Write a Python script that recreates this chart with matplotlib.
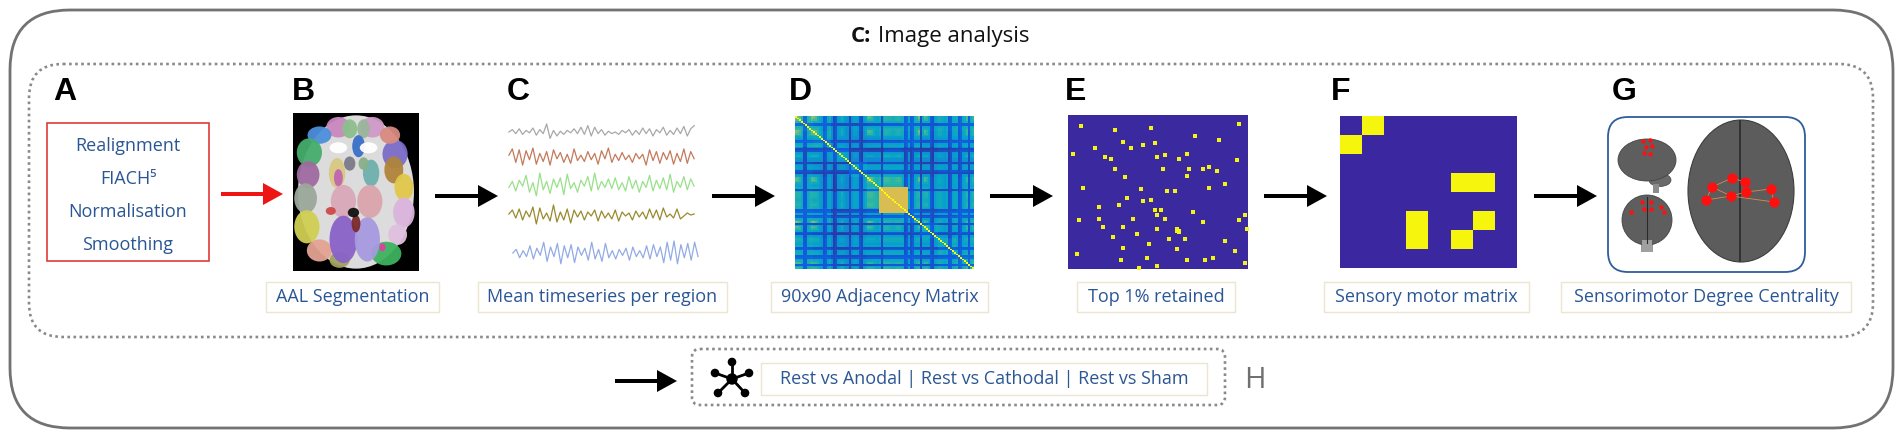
import matplotlib
matplotlib.use('Agg')
import matplotlib.pyplot as plt
import numpy as np
from matplotlib.patches import FancyBboxPatch, Rectangle, Ellipse, FancyArrow, Circle
from matplotlib.colors import LinearSegmentedColormap, ListedColormap

# ---------------- data ----------------
panel_letters = ['A', 'B', 'C', 'D', 'E', 'F', 'G']
preproc_steps = ['Realignment', 'FIACH\u2075', 'Normalisation', 'Smoothing']
captions = ['AAL Segmentation', 'Mean timeseries per region', '90x90 Adjacency Matrix',
            'Top 1% retained', 'Sensory motor matrix', 'Sensorimotor Degree Centrality']
title_bold = 'C:'
title_rest = 'Image analysis'
bottom_caption = 'Rest vs Anodal | Rest vs Cathodal | Rest vs Sham'
bottom_label = 'H'

ts_gray = [0.0,0.3,-0.2,0.4,-0.3,0.2,-0.1,0.5,-0.4,0.3,-0.2,1.0,-0.8,0.2,-0.5,0.1,-0.3,0.2,-0.1,0.4,
           -0.2,0.6,-0.3,0.8,-0.5,0.6,-0.2,0.3,-0.4,0.1,-0.2,0.0,-0.3,0.2,-0.1,0.3,-0.4,0.2,-0.3,0.5,
           -0.2,0.4,-0.5,0.3,-0.1,0.6,-0.4,0.2,-0.3,0.5,-0.2,0.7,-0.5,0.4,0.8]
ts_brown = [0.2,0.9,-0.6,0.8,-0.9,0.7,-0.3,1.0,-0.8,0.4,-0.5,0.6,-0.9,0.8,-0.2,0.5,-0.6,0.3,-0.7,0.9,
            -0.4,0.2,-0.5,0.6,-0.3,0.4,-0.8,0.7,-0.2,1.0,-0.6,0.3,-0.4,0.5,-0.3,0.2,-0.6,0.4,-0.2,0.3,
            -0.9,0.8,-0.4,0.6,-0.7,0.5,-0.3,0.7,-0.8,0.4,-0.5,0.9,-0.7,0.6,-0.2]
ts_green = [-0.2,0.3,-0.5,0.4,-0.1,0.8,-0.6,0.2,-0.9,1.0,-0.4,0.3,-0.7,0.5,-0.2,0.6,-0.8,0.9,-0.3,0.2,
            -0.6,0.4,-0.1,0.7,-0.5,1.0,-0.4,0.3,-0.2,0.5,-0.3,0.6,-0.4,0.2,-0.5,0.7,-0.3,0.4,-0.6,0.3,
            -0.2,0.8,-0.5,0.4,-0.3,0.6,-0.4,0.9,-0.6,0.3,-0.2,0.7,-0.4,0.5,-0.1]
ts_olive = [0.1,0.5,-0.3,0.6,-0.5,0.4,-0.2,0.8,-0.9,0.7,-0.4,0.2,-0.6,1.0,-0.7,0.3,-0.5,0.6,-0.8,0.5,
            -0.2,0.4,-0.5,0.3,-0.1,0.5,-0.6,0.4,-0.3,0.2,-0.4,0.5,-0.6,0.3,-0.1,0.2,-0.5,0.4,-0.2,0.3,
            -0.4,0.6,-0.3,0.5,-0.5,0.7,-0.2,0.1,-0.3,0.6,-0.4,-0.1,0.2,0.0,0.1]
ts_blue = [0.0,0.3,-0.4,0.2,-0.3,0.6,-0.5,0.4,-0.2,0.9,-0.7,0.5,-0.3,0.8,-0.9,0.6,-0.4,0.7,-0.8,0.5,
           -0.2,0.4,-0.6,0.9,-0.5,0.3,-0.7,0.8,-0.4,0.2,-0.5,0.3,-0.2,0.4,-0.6,0.5,-0.3,0.2,-0.4,0.6,
           -0.5,0.7,-0.3,0.5,-0.8,0.9,-0.6,1.0,-0.9,0.7,-0.4,0.8,-0.6,0.9,-0.3]
timeseries = [ts_gray, ts_brown, ts_green, ts_olive, ts_blue]

# region profile for the 90x90 adjacency matrix (stripe pattern)
region_profile = [0.70,0.65,0.55,0.40,-0.05,-0.05,0.38,0.45,0.65,0.70,
                  0.60,0.45,0.35,0.30,-0.05,0.00,0.35,0.40,0.30,-0.05,
                  0.00,0.35,0.40,0.50,0.38,0.32,0.30,-0.05,0.30,0.38,
                  0.40,0.35,0.00,-0.05,0.35,0.42,0.65,0.70,0.60,0.45,
                  0.40,0.38,0.45,-0.05,0.42,0.50,0.50,0.48,0.45,0.42,
                  0.45,0.48,0.50,0.45,0.40,-0.05,0.00,0.35,-0.05,0.00,
                  0.38,0.45,0.70,-0.05,0.45,0.65,0.55,0.40,0.00,-0.05,
                  0.35,0.40,0.45,0.42,0.38,0.35,0.40,-0.05,0.00,0.38,
                  0.42,0.38,-0.05,0.00,0.35,0.40,0.55,-0.05,0.38,0.50]
# coarse module levels (10x10 blocks of 9 regions)
module_levels = [[0.55,0.45,0.30,0.30,0.35,0.40,0.45,0.35,0.40,0.45],
                 [0.45,0.50,0.30,0.25,0.30,0.35,0.40,0.30,0.35,0.40],
                 [0.30,0.30,0.40,0.22,0.20,0.30,0.25,0.20,0.25,0.30],
                 [0.30,0.25,0.22,0.40,0.30,0.35,0.30,0.25,0.30,0.30],
                 [0.35,0.30,0.20,0.30,0.50,0.55,0.35,0.30,0.30,0.35],
                 [0.40,0.35,0.30,0.35,0.55,0.50,0.40,0.35,0.35,0.40],
                 [0.45,0.40,0.25,0.30,0.35,0.40,0.45,0.30,0.35,0.40],
                 [0.35,0.30,0.20,0.25,0.30,0.35,0.30,0.40,0.30,0.35],
                 [0.40,0.35,0.25,0.30,0.30,0.35,0.35,0.30,0.45,0.40],
                 [0.45,0.40,0.30,0.30,0.35,0.40,0.40,0.35,0.40,0.50]]
block_start, block_end, block_value = 42, 57, 0.76

# top 1% retained edges (row, col) in 90x90 grid
top_rows = [6,8,7,12,5,15,16,14,19,19,17,22,24,25,24,23,25,22,26,31,31,31,31,30,32,35,36,40,42,43,44,44,42,48,
            50,49,53,52,55,55,58,56,60,61,60,60,62,61,58,65,65,66,66,67,67,68,66,71,69,72,72,73,75,77,78,81,
            79,83,84,84,84,83,86,89,88]
top_cols = [6,23,41,63,85,27,43,75,13,31,37,2,18,21,44,48,55,59,84,23,47,60,67,70,74,59,28,78,7,36,49,53,70,29,
            37,41,15,25,43,46,44,62,48,5,15,32,67,85,88,17,27,44,54,54,55,55,89,22,34,50,58,78,40,27,54,4,
            83,39,26,59,68,72,88,35,44]

# sensory motor matrix (8x8)
sm_matrix = [[0,1,0,0,0,0,0,0],
             [1,0,0,0,0,0,0,0],
             [0,0,0,0,0,0,0,0],
             [0,0,0,0,0,1,1,0],
             [0,0,0,0,0,0,0,0],
             [0,0,0,1,0,0,1,0],
             [0,0,0,1,0,1,0,0],
             [0,0,0,0,0,0,0,0]]

# sensorimotor nodes (figure pixel positions)
dc_node_x = [1732,1745,1712,1771,1746,1731,1706,1774]
dc_node_y = [178,182,187,189,192,196,200,202]
dc_edges = [(2,0),(0,1),(1,4),(4,5),(5,2),(6,5),(4,3),(3,7),(6,2),(5,7)]
side_node_x = [1643,1650,1646,1652,1644,1650]
side_node_y = [141,140,147,146,153,154]
rear_node_x = [1631,1642,1651,1644,1651,1661,1664]
rear_node_y = [212,202,202,209,209,207,212]

# AAL segmentation patches: (cx, cy, w, h, colour) in brain-image units
aal_patches = [
    (0.36,0.09,0.19,0.13,'#c987c0'),(0.63,0.09,0.19,0.13,'#d09ac8'),(0.45,0.10,0.12,0.12,'#8cbf8c'),
    (0.56,0.10,0.10,0.12,'#9ab59a'),(0.21,0.14,0.19,0.11,'#4d8fdc'),(0.13,0.25,0.20,0.18,'#45ad6b'),
    (0.52,0.21,0.10,0.14,'#3a6fc8'),(0.81,0.26,0.20,0.18,'#7b6cc8'),(0.77,0.14,0.16,0.11,'#d98a80'),
    (0.12,0.39,0.18,0.17,'#a06aa0'),(0.10,0.54,0.18,0.19,'#9aa89a'),(0.11,0.72,0.20,0.21,'#cfcf52'),
    (0.21,0.87,0.20,0.14,'#e4a393'),(0.37,0.93,0.16,0.10,'#a0a060'),(0.35,0.38,0.13,0.19,'#d8c880'),
    (0.36,0.41,0.07,0.11,'#c066b0'),(0.45,0.32,0.09,0.09,'#7a7a8a'),(0.62,0.38,0.13,0.17,'#6fb0ae'),
    (0.56,0.32,0.08,0.08,'#88b088'),(0.40,0.56,0.20,0.21,'#d9a9b9'),(0.61,0.56,0.20,0.21,'#dba5ad'),
    (0.80,0.36,0.15,0.17,'#b0843a'),(0.88,0.47,0.15,0.17,'#e2c84a'),(0.88,0.63,0.17,0.19,'#dab3dc'),
    (0.83,0.77,0.15,0.13,'#e0c0e0'),(0.74,0.89,0.24,0.15,'#3db25e'),(0.40,0.80,0.22,0.30,'#8a62c8'),
    (0.59,0.80,0.20,0.28,'#a79ae0'),(0.50,0.70,0.07,0.11,'#7a2a2a'),(0.48,0.63,0.09,0.06,'#111111'),
    (0.36,0.22,0.14,0.07,'#ffffff'),(0.60,0.22,0.14,0.07,'#ffffff'),(0.30,0.62,0.08,0.05,'#d04848'),
    (0.71,0.85,0.05,0.05,'#e040a0')]

# ---------------- figure ----------------
W, H = 1902, 437
fig = plt.figure(figsize=(W / 100, H / 100), dpi=100)
ax = fig.add_axes([0, 0, 1, 1])
ax.set_xlim(0, W)
ax.set_ylim(H, 0)
ax.axis('off')

TXT = '#2b5694'
SANS = ['Open Sans', 'DejaVu Sans']


def rbox(a, x0, y0, x1, y1, r, **kw):
    p = FancyBboxPatch((x0, y0), x1 - x0, y1 - y0,
                       boxstyle=f"round,pad=0,rounding_size={r}", **kw)
    a.add_patch(p)
    return p


def inset(x0, y0, x1, y1):
    a = fig.add_axes([x0 / W, 1 - y1 / H, (x1 - x0) / W, (y1 - y0) / H])
    a.set_axis_off()
    return a


def arrow(x0, x1, y, color='black'):
    ax.add_patch(FancyArrow(x0, y, x1 - x0, 0, width=4, head_width=22, head_length=20,
                            length_includes_head=True, color=color, lw=0))


dot_style = dict(facecolor='none', edgecolor='#8a8a8a', lw=1.9, linestyle=(0, (1, 1.3)))

# outer frame
rbox(ax, 10, 10, 1893, 428, 60, facecolor='white', edgecolor='#727272', lw=2.0)
# inner dotted frame
rbox(ax, 29, 64, 1873, 337, 34, **dot_style)

# title
ax.text(851, 42, title_bold, fontsize=16, fontweight='bold', family=SANS, color='#111111', va='baseline')
ax.text(878, 42, title_rest, fontsize=16, family=SANS, color='#111111', va='baseline')

# panel letters
letter_x = [53, 292, 507, 789, 1065, 1331, 1612]
for lx, lt in zip(letter_x, panel_letters):
    ax.text(lx, 100, lt, fontsize=23, fontweight='bold', family=['Liberation Sans', 'DejaVu Sans'],
            color='black', va='baseline', ha='left')

# panel A
ax.add_patch(Rectangle((47, 123), 162, 138, facecolor='white', edgecolor='#e03a3a', lw=1.2))
for yy, s in zip([146, 179, 212, 245], preproc_steps):
    ax.text(128, yy, s, fontsize=13, family=SANS, color=TXT, ha='center', va='center')

# arrows
arrow(221, 283, 194, '#ee1515')
for x0, x1 in [(435, 498), (712, 775), (990, 1053), (1264, 1327), (1534, 1597)]:
    arrow(x0, x1, 196)

# panel B: AAL brain
ab = inset(293, 113, 419, 271)
ab.set_xlim(0, 1)
ab.set_ylim(1, 0)
ab.add_patch(Rectangle((0, 0), 1, 1, facecolor='black', transform=ab.transAxes))
ab.add_patch(Ellipse((0.5, 0.5), 0.92, 0.97, facecolor='#dcdcdc', edgecolor='none'))
for cx, cy, w, h, c in aal_patches:
    ab.add_patch(Ellipse((cx, cy), w, h, facecolor=c, edgecolor='none', alpha=0.95))

# panel C: timeseries
ac = inset(505, 115, 700, 272)
ac.set_ylim(272, 115)
ac.set_xlim(0, 1)
ts_colors = ['#a8a8a8', '#c47a5a', '#98e08a', '#9a8a2c', '#93abe4']
ts_centers = [132, 157, 185, 215, 253]
ts_amp = [8, 9, 12, 10, 12]
ts_xr = [(0.02, 0.97), (0.02, 0.97), (0.02, 0.97), (0.02, 0.97), (0.04, 0.99)]
for vals, col, cen, amp, (a0, a1) in zip(timeseries, ts_colors, ts_centers, ts_amp, ts_xr):
    v = np.array(vals)
    xs = np.linspace(a0, a1, len(v))
    ac.plot(xs, cen - amp * v, color=col, lw=0.9)

# panel D: adjacency matrix
parula = LinearSegmentedColormap.from_list('parula', [
    '#352a87', '#0f5cdd', '#1481d6', '#06a4ca', '#2eb7a4', '#87bf77',
    '#d1bb59', '#fec832', '#f5e31f', '#f9fb0e'])
p = np.array(region_profile)
coarse = np.kron(np.array(module_levels), np.ones((9, 9)))
M = 0.62 * np.minimum.outer(p, p) + 0.38 * coarse
M[block_start:block_end, block_start:block_end] = block_value
np.fill_diagonal(M, 1.1)
ad = inset(795, 116, 973, 269)
ad.imshow(M, cmap=parula, vmin=0, vmax=1.1, aspect='auto', interpolation='nearest')

# panel E: top 1%
ae = inset(1068, 115, 1248, 269)
ae.set_xlim(0, 90)
ae.set_ylim(90, 0)
ae.add_patch(Rectangle((0, 0), 1, 1, facecolor='#3b2a9f', transform=ae.transAxes))
ae.scatter(np.array(top_cols) + 0.5, np.array(top_rows) + 0.5, marker='s', s=6,
           color='#f4f414', linewidths=0)

# panel F: sensory motor matrix
af = inset(1340, 116, 1517, 268)
af.imshow(np.array(sm_matrix), cmap=ListedColormap(['#3b28a0', '#f6f50e']),
          aspect='auto', interpolation='nearest')

# panel G
rbox(ax, 1608, 117, 1805, 272, 20, facecolor='white', edgecolor='#2d5d9c', lw=1.3)
# large top-view brain
ax.add_patch(Ellipse((1741, 191), 106, 142, facecolor='#5c5c5c', edgecolor='#3e3e3e', lw=0.8))
ax.plot([1740, 1740], [121, 261], color='#2a2a2a', lw=1.2)
for i, j in dc_edges:
    ax.plot([dc_node_x[i], dc_node_x[j]], [dc_node_y[i], dc_node_y[j]], color='#e0894a', lw=0.6)
ax.scatter(dc_node_x, dc_node_y, s=55, color='#ff1010', zorder=5, linewidths=0)
# side view
ax.add_patch(Ellipse((1660, 180), 22, 13, facecolor='#6a6a6a', edgecolor='#444', lw=0.5))
ax.add_patch(Rectangle((1653, 184), 6, 9, facecolor='#8c8c8c', edgecolor='none'))
ax.add_patch(Ellipse((1647, 160), 58, 42, facecolor='#5e5e5e', edgecolor='#444', lw=0.6))
ax.scatter(side_node_x, side_node_y, s=10, color='#ff1010', zorder=5, linewidths=0)
# rear view
ax.add_patch(Rectangle((1641, 236), 12, 16, facecolor='#9a9a9a', edgecolor='none'))
ax.add_patch(Ellipse((1647, 220), 50, 50, facecolor='#5e5e5e', edgecolor='#444', lw=0.6))
ax.plot([1647, 1647], [197, 243], color='#2a2a2a', lw=0.8)
ax.add_patch(Rectangle((1642, 240), 10, 12, facecolor='#a0a0a0', edgecolor='none'))
ax.scatter(rear_node_x, rear_node_y, s=10, color='#ff1010', zorder=5, linewidths=0)

# captions
cap_boxes = [(266, 439), (478, 727), (771, 988), (1077, 1235), (1324, 1529), (1561, 1851)]
for (x0, x1), s in zip(cap_boxes, captions):
    ax.add_patch(Rectangle((x0, 282), x1 - x0, 30, facecolor='white', edgecolor='#ece5cf', lw=1.0))
    ax.text((x0 + x1) / 2, 297, s, fontsize=13, family=SANS, color=TXT, ha='center', va='center')

# bottom row H
arrow(615, 677, 381)
rbox(ax, 692, 349, 1225, 405, 8, **dot_style)
hub = (732, 379)
spokes = [(732, 362), (715, 373), (749, 373), (718, 393), (745, 393)]
for sx, sy in spokes:
    ax.plot([hub[0], sx], [hub[1], sy], color='black', lw=2.0, solid_capstyle='round')
    ax.add_patch(Circle((sx, sy), 3.6, color='black'))
ax.add_patch(Circle(hub, 5.0, color='black'))
ax.add_patch(Rectangle((761, 363), 446, 32, facecolor='white', edgecolor='#ece5cf', lw=1.0))
ax.text(984, 379, bottom_caption, fontsize=13, family=SANS, color=TXT, ha='center', va='center')
ax.text(1244, 381, bottom_label, fontsize=21, family=SANS, color='#707070',
        ha='left', va='center')

fig.savefig('out.png', dpi=100)
